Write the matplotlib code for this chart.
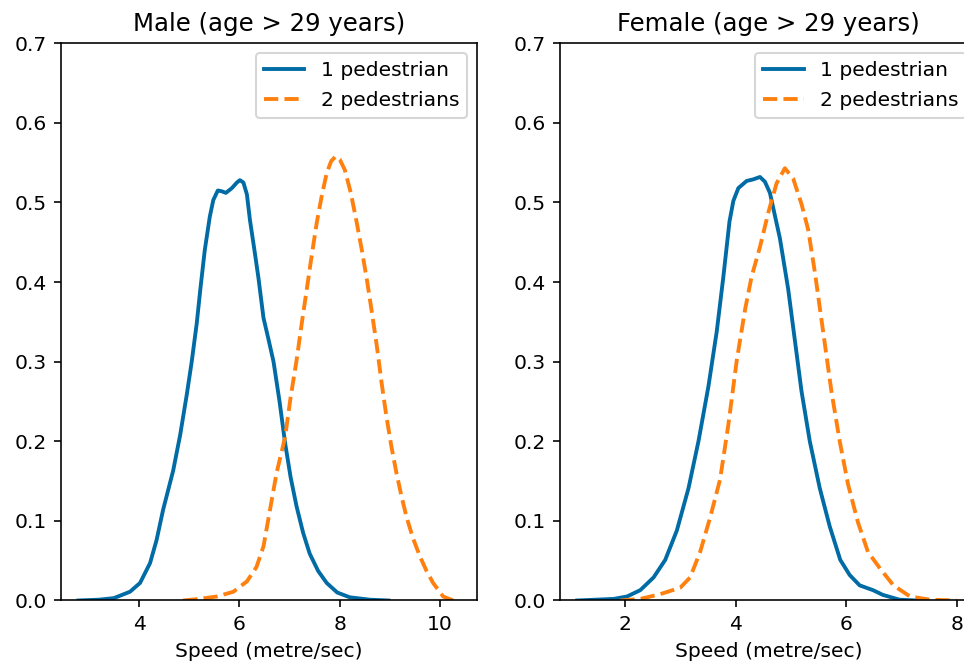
import matplotlib.pyplot as plt

# left panel: male, speed vs density
male_x1 = [2.79, 3.2, 3.5, 3.82, 4.02, 4.22, 4.35, 4.48, 4.68, 4.82, 4.95, 5.05, 5.15, 5.22,
           5.31, 5.41, 5.48, 5.57, 5.65, 5.73, 5.85, 5.95, 6.01, 6.08, 6.15, 6.21, 6.3, 6.38,
           6.48, 6.58, 6.68, 6.8, 6.91, 7.02, 7.14, 7.27, 7.4, 7.57, 7.74, 7.95, 8.2, 8.6, 8.97]
male_y1 = [0.0, 0.001, 0.003, 0.011, 0.022, 0.047, 0.076, 0.114, 0.163, 0.208, 0.258, 0.3,
           0.348, 0.39, 0.44, 0.482, 0.503, 0.515, 0.514, 0.512, 0.518, 0.525, 0.528, 0.525,
           0.51, 0.478, 0.44, 0.405, 0.355, 0.328, 0.3, 0.25, 0.198, 0.155, 0.118, 0.085,
           0.059, 0.037, 0.022, 0.01, 0.004, 0.001, 0.0]
male_x2 = [4.88, 5.2, 5.55, 5.88, 6.15, 6.34, 6.48, 6.61, 6.74, 6.91, 7.02, 7.14, 7.24, 7.34,
           7.44, 7.54, 7.64, 7.74, 7.83, 7.92, 8.0, 8.1, 8.22, 8.34, 8.44, 8.54, 8.64, 8.74,
           8.83, 8.93, 9.03, 9.13, 9.23, 9.33, 9.46, 9.6, 9.73, 9.86, 10.06, 10.26]
male_y2 = [0.0, 0.002, 0.005, 0.011, 0.024, 0.042, 0.068, 0.114, 0.16, 0.205, 0.255, 0.302,
           0.347, 0.39, 0.433, 0.474, 0.508, 0.537, 0.552, 0.558, 0.554, 0.541, 0.512, 0.474,
           0.44, 0.403, 0.362, 0.319, 0.275, 0.231, 0.193, 0.16, 0.131, 0.105, 0.078, 0.055,
           0.037, 0.022, 0.005, 0.0]

# right panel: female
fem_x1 = [1.14, 1.8, 2.04, 2.28, 2.52, 2.73, 2.94, 3.15, 3.33, 3.51, 3.66, 3.78, 3.89, 3.96,
          4.05, 4.2, 4.32, 4.44, 4.53, 4.62, 4.8, 4.95, 5.07, 5.19, 5.34, 5.52, 5.7, 5.89,
          6.06, 6.24, 6.48, 6.66, 6.96, 7.26]
fem_y1 = [0.0, 0.002, 0.005, 0.013, 0.029, 0.051, 0.088, 0.141, 0.2, 0.269, 0.338, 0.407,
          0.476, 0.502, 0.518, 0.527, 0.529, 0.532, 0.526, 0.512, 0.455, 0.391, 0.327, 0.263,
          0.2, 0.141, 0.093, 0.051, 0.032, 0.019, 0.013, 0.007, 0.001, 0.0]
fem_x2 = [1.92, 2.28, 2.64, 3.0, 3.18, 3.36, 3.54, 3.72, 3.87, 4.02, 4.17, 4.29, 4.44, 4.59,
          4.74, 4.89, 5.04, 5.19, 5.31, 5.43, 5.58, 5.73, 5.88, 6.03, 6.21, 6.39, 6.61, 6.85,
          7.15, 7.51, 7.99]
fem_y2 = [0.0, 0.002, 0.008, 0.016, 0.029, 0.061, 0.104, 0.152, 0.221, 0.301, 0.365, 0.407,
          0.444, 0.487, 0.524, 0.543, 0.53, 0.498, 0.466, 0.413, 0.338, 0.263, 0.2, 0.146,
          0.098, 0.061, 0.04, 0.019, 0.005, 0.001, 0.0]

titles = ['Male (age > 29 years)', 'Female (age > 29 years)']
labels = ['1 pedestrian', '2 pedestrians']
xlims = [(2.44, 10.74), (0.83, 8.35)]

blue = '#006BA4'
orange = '#FF800E'

fig = plt.figure(figsize=(964 / 146, 665 / 146), dpi=146)
ax1 = fig.add_axes([0.063, 0.097, 0.4321, 0.838])
ax2 = fig.add_axes([0.5809, 0.097, 0.4321, 0.838])

data = [(male_x1, male_y1, male_x2, male_y2), (fem_x1, fem_y1, fem_x2, fem_y2)]
for ax, (x1, y1, x2, y2), title, xl in zip([ax1, ax2], data, titles, xlims):
    ax.plot(x1, y1, c=blue, lw=1.9, label=labels[0])
    ax.plot(x2, y2, c=orange, lw=1.9, ls='--', label=labels[1])
    ax.set_xlim(xl)
    ax.set_ylim(0, 0.7)
    ax.set_title(title)
    ax.set_xlabel('Speed (metre/sec)')
    ax.legend(loc='upper right')

fig.savefig('out.png', dpi=146)
